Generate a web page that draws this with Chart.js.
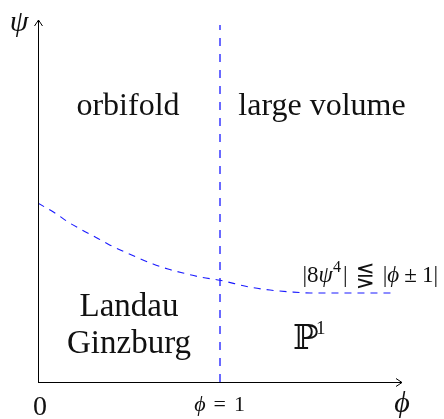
<!DOCTYPE html>
<html>
<head>
<meta charset="utf-8">
<script src="https://cdn.jsdelivr.net/npm/chart.js@4.4.0/dist/chart.umd.min.js"></script>
<style>
html,body{margin:0;padding:0;background:#fff;}
#wrap{width:444px;height:419px;position:relative;}
</style>
</head>
<body>
<div id="wrap"><canvas id="c" width="444" height="419"></canvas></div>
<script>
// Boundary curve |8psi^4| = |phi +- 1|
const curveX = [0, 0.093, 0.165, 0.242, 0.324, 0.396, 0.478, 0.549, 0.632, 0.714, 0.797, 0.890, 1.0, 1.165, 1.275, 1.385, 1.495, 1.714, 1.962];
const curveY = [0.494, 0.467, 0.442, 0.420, 0.398, 0.378, 0.359, 0.343, 0.326, 0.312, 0.301, 0.290, 0.281, 0.262, 0.254, 0.249, 0.246, 0.246, 0.246];
// Vertical line phi = 1
const vlineX = [1, 1];
const vlineY = [0, 0.986];
// Axis ranges
const xRange = [0, 2];
const yRange = [0, 1];
// Region labels
const regionLabels = ["orbifold", "large volume", "Landau", "Ginzburg", "\u2119"];

const serif = '"Liberation Serif", "DejaVu Serif", serif';

function drawRuns(ctx, runs, xRight, baseline) {
  let total = 0;
  runs.forEach(r => { ctx.font = r[1]; total += ctx.measureText(r[0]).width + (r[3] || 0); });
  let x = xRight - total;
  ctx.textAlign = 'left';
  runs.forEach(r => {
    ctx.font = r[1];
    ctx.fillText(r[0], x, baseline + (r[2] || 0));
    x += ctx.measureText(r[0]).width + (r[3] || 0);
  });
}

const overlay = {
  id: 'overlay',
  afterDatasetsDraw(chart) {
    const ctx = chart.ctx;
    const xs = chart.scales.x, ys = chart.scales.y;
    const x0 = xs.getPixelForValue(0), y0 = ys.getPixelForValue(0);
    const xEnd = xs.getPixelForValue(xRange[1]), yEnd = ys.getPixelForValue(yRange[1]);
    ctx.save();
    ctx.strokeStyle = '#000';
    ctx.lineWidth = 1;
    // axes
    ctx.beginPath();
    ctx.moveTo(x0 + 0.5, y0 + 0.5); ctx.lineTo(x0 + 0.5, yEnd);
    ctx.moveTo(x0, y0 + 0.5); ctx.lineTo(xEnd, y0 + 0.5);
    ctx.stroke();
    // arrowheads
    ctx.beginPath();
    ctx.moveTo(x0 - 3.5, yEnd + 6); ctx.lineTo(x0 + 0.5, yEnd); ctx.lineTo(x0 + 4.5, yEnd + 6);
    ctx.moveTo(xEnd - 6, y0 - 3.5); ctx.lineTo(xEnd, y0 + 0.5); ctx.lineTo(xEnd - 6, y0 + 4.5);
    ctx.stroke();

    ctx.fillStyle = '#111';
    ctx.textBaseline = 'alphabetic';
    ctx.textAlign = 'center';
    // region labels
    ctx.font = '32px ' + serif;
    ctx.fillText(regionLabels[0], 128, 115);
    ctx.fillText(regionLabels[1], 322, 115);
    ctx.font = '33px ' + serif;
    ctx.fillText(regionLabels[2], 129, 316);
    ctx.fillText(regionLabels[3], 129, 353);
    // P^1
    ctx.textAlign = 'left';
    ctx.font = '34px "DejaVu Serif", serif';
    ctx.fillText(regionLabels[4], 293, 349);
    ctx.font = '19px ' + serif;
    ctx.fillText('1', 316, 334);
    // inequality label
    const N = '23px ' + serif, I = 'italic 23px ' + serif;
    drawRuns(ctx, [
      ['|8', N], ['\u03C8', I], ['4', '16px ' + serif, -10, 2], ['|', N, 0, 8],
      ['\u22DA', '23px "DejaVu Sans", sans-serif', 1, 8], ['|', N], ['\u03D5', I, 0, 5],
      ['\u00B1', N, 0, 5], ['1|', N]
    ], 438, 282);
    // axis labels
    ctx.textAlign = 'center';
    ctx.font = 'italic 30px ' + serif;
    ctx.fillText('\u03C8', 19, 31);
    ctx.fillText('\u03D5', 402, 412);
    ctx.font = '28px ' + serif;
    ctx.fillText('0', 40, 415);
    drawRuns(ctx, [['\u03D5', 'italic 22px ' + serif, 0, 8], ['=', '22px ' + serif, 0, 8], ['1', '22px ' + serif]], 245, 411);
    ctx.restore();
  }
};

new Chart(document.getElementById('c'), {
  type: 'scatter',
  data: {
    datasets: [
      {
        data: curveX.map((x, i) => ({x: x, y: curveY[i]})),
        showLine: true, borderColor: '#1a1aff', borderWidth: 1.1,
        borderDash: [7, 6], pointRadius: 0, tension: 0.4, cubicInterpolationMode: 'monotone'
      },
      {
        data: vlineX.map((x, i) => ({x: x, y: vlineY[i]})),
        showLine: true, borderColor: '#1a1aff', borderWidth: 1.3,
        borderDash: [8, 8], pointRadius: 0
      }
    ]
  },
  options: {
    responsive: false,
    animation: false,
    layout: {padding: {left: 38, right: 42, top: 20, bottom: 37}},
    plugins: {legend: {display: false}, tooltip: {enabled: false}},
    scales: {
      x: {type: 'linear', min: xRange[0], max: xRange[1], display: false},
      y: {type: 'linear', min: yRange[0], max: yRange[1], display: false}
    }
  },
  plugins: [overlay]
});
</script>
</body>
</html>
